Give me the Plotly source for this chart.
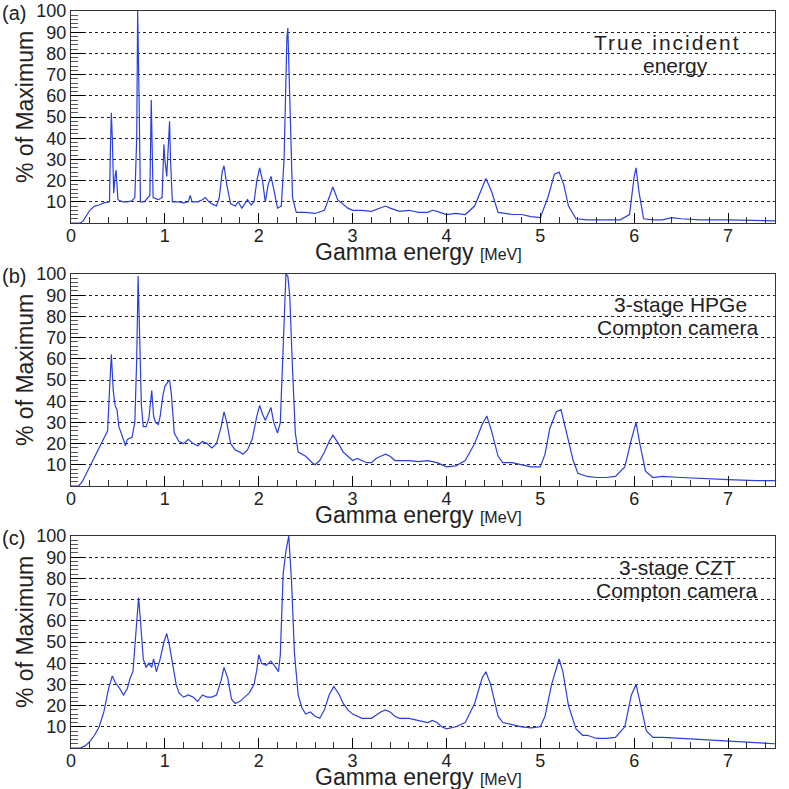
import plotly.graph_objects as go

# ---------------- data ----------------
# (a) True incident energy
energy_a = [0, 0.1, 0.13, 0.2, 0.25, 0.3, 0.35, 0.4, 0.41, 0.42, 0.43, 0.44, 0.455, 0.47, 0.48, 0.49, 0.5,
            0.55, 0.6, 0.65, 0.68, 0.7, 0.71, 0.725, 0.74, 0.78, 0.82, 0.84, 0.855, 0.865, 0.875, 0.93,
            0.97, 0.99, 1.0, 1.02, 1.05, 1.06, 1.08, 1.15, 1.2, 1.25, 1.27, 1.29, 1.35, 1.4, 1.43, 1.47,
            1.5, 1.55, 1.58, 1.61, 1.63, 1.66, 1.7, 1.75, 1.78, 1.82, 1.85, 1.88, 1.92, 1.95, 1.98, 2.01,
            2.04, 2.07, 2.1, 2.13, 2.16, 2.2, 2.24, 2.27, 2.3, 2.31, 2.33, 2.36, 2.4, 2.5, 2.6, 2.7, 2.75,
            2.79, 2.84, 2.9, 2.95, 3.0, 3.1, 3.2, 3.3, 3.35, 3.4, 3.5, 3.6, 3.7, 3.8, 3.85, 3.9, 4.0, 4.1,
            4.2, 4.3, 4.37, 4.42, 4.48, 4.55, 4.7, 4.8, 4.9, 5.0, 5.08, 5.15, 5.2, 5.25, 5.3, 5.38, 5.5,
            5.7, 5.85, 5.95, 6.0, 6.02, 6.05, 6.1, 6.2, 6.3, 6.4, 6.5, 6.7, 7.0, 7.5]
percent_a = [0, 0, 1, 6, 8, 8.5, 9.5, 10, 10, 35, 52, 40, 14, 22, 25, 18, 11,
             10, 10, 10.5, 12, 40, 100, 60, 10, 10, 12, 13, 58, 20, 12, 11,
             12, 37, 30, 22, 48, 30, 10, 10, 9.5, 10, 13, 10, 10, 11, 12, 10,
             9, 8, 12, 24, 27, 18, 9, 8, 10, 7, 9, 11, 8.5, 10, 20, 26,
             20, 10, 18, 22, 16, 7, 8, 30, 87, 92, 60, 12, 5, 5, 4.5, 6, 12,
             17, 11, 9, 7, 6, 6, 5.5, 7, 8, 7, 5.5, 6, 5, 5, 6, 5.5, 4, 4.5,
             4, 8, 16, 21, 15, 5, 4, 4, 3, 2.5, 12, 23, 24, 18, 8, 2, 1.5,
             1.5, 1.5, 4, 22, 26, 15, 2, 1.5, 1.5, 2.5, 2, 1.5, 1.5, 1]

# (b) 3-stage HPGe Compton camera
energy_b = [0, 0.08, 0.12, 0.2, 0.25, 0.3, 0.35, 0.39, 0.41, 0.43, 0.45, 0.47, 0.49, 0.51, 0.55, 0.58,
            0.6, 0.65, 0.68, 0.7, 0.715, 0.73, 0.75, 0.77, 0.8, 0.83, 0.86, 0.88, 0.9, 0.93, 0.95, 0.98,
            1.0, 1.03, 1.05, 1.07, 1.1, 1.15, 1.2, 1.25, 1.3, 1.35, 1.4, 1.45, 1.5, 1.55, 1.6, 1.63, 1.66,
            1.7, 1.75, 1.8, 1.83, 1.88, 1.93, 1.98, 2.01, 2.04, 2.07, 2.1, 2.13, 2.16, 2.2, 2.23, 2.26,
            2.29, 2.31, 2.33, 2.36, 2.39, 2.42, 2.5, 2.57, 2.6, 2.65, 2.7, 2.75, 2.79, 2.85, 2.9, 2.95,
            3.0, 3.05, 3.1, 3.15, 3.2, 3.25, 3.3, 3.35, 3.4, 3.45, 3.5, 3.6, 3.7, 3.8, 3.9, 4.0, 4.1, 4.2,
            4.3, 4.38, 4.43, 4.48, 4.55, 4.6, 4.7, 4.8, 4.9, 5.0, 5.05, 5.1, 5.17, 5.22, 5.28, 5.35, 5.4,
            5.5, 5.6, 5.7, 5.8, 5.9, 5.97, 6.02, 6.06, 6.12, 6.2, 6.3, 6.5, 6.7, 7.0, 7.3, 7.5]
percent_b = [0, 0, 2, 9, 14, 18, 22, 26, 45, 62, 45, 38, 36, 28, 23, 19,
             22, 23, 30, 60, 99, 70, 38, 28, 28, 32, 45, 33, 30, 29, 33, 43,
             47, 49, 50, 43, 25, 21, 20, 22, 20, 19, 21, 20, 18, 20, 28, 35, 30,
             20, 17, 16, 15, 17, 22, 33, 38, 34, 31, 34, 37, 30, 25, 30, 65,
             100, 99, 90, 55, 25, 16, 14, 11, 10, 12, 16, 21, 24, 20, 16, 14,
             12, 13, 12, 11, 11, 13, 14, 15, 14, 12, 12, 12, 11.5, 12, 11, 9, 9.5, 12,
             20, 29, 33, 26, 14, 11, 11, 10, 9, 9, 15, 27, 35, 36, 25, 12, 6,
             4.5, 4, 4, 4.5, 9, 22, 30, 20, 7, 4, 4.5, 4, 3.5, 3, 2.5, 2.5]

# (c) 3-stage CZT Compton camera
energy_c = [0, 0.1, 0.15, 0.2, 0.25, 0.3, 0.35, 0.4, 0.44, 0.47, 0.52, 0.56, 0.6, 0.63, 0.66, 0.69,
            0.72, 0.74, 0.77, 0.8, 0.83, 0.86, 0.88, 0.91, 0.95, 0.99, 1.02, 1.05, 1.08, 1.12, 1.15,
            1.2, 1.25, 1.3, 1.35, 1.4, 1.45, 1.5, 1.55, 1.6, 1.63, 1.67, 1.71, 1.75, 1.8, 1.85, 1.9,
            1.95, 1.98, 2.0, 2.03, 2.08, 2.13, 2.18, 2.21, 2.23, 2.26, 2.29, 2.32, 2.35, 2.38, 2.42,
            2.46, 2.5, 2.55, 2.6, 2.65, 2.7, 2.75, 2.8, 2.86, 2.9, 2.95, 3.0, 3.05, 3.1, 3.2, 3.3,
            3.35, 3.4, 3.45, 3.5, 3.6, 3.7, 3.8, 3.85, 3.9, 3.95, 4.0, 4.1, 4.2, 4.3, 4.38, 4.42,
            4.47, 4.55, 4.6, 4.7, 4.8, 4.9, 5.0, 5.05, 5.12, 5.2, 5.24, 5.3, 5.38, 5.45, 5.5, 5.6,
            5.7, 5.8, 5.9, 5.97, 6.02, 6.07, 6.13, 6.2, 6.3, 6.5, 6.7, 7.0, 7.3, 7.5]
percent_c = [0, 0, 1, 3, 6, 10, 17, 28, 34, 31, 28, 25, 28, 33, 36, 52,
             71, 60, 42, 38, 40, 38, 42, 36, 42, 50, 54, 48, 40, 30, 26,
             24, 25, 24, 22, 25, 24, 24, 25, 32, 38, 33, 23, 21, 22, 24, 26,
             30, 37, 44, 40, 39, 41, 38, 36, 44, 82, 93, 100, 78, 45, 25,
             19, 16, 17, 15, 14, 18, 25, 29, 25, 21, 18, 16, 15, 14, 14, 17,
             18, 17, 15, 14, 14, 13, 12, 13, 12, 10, 9, 10, 12, 21, 33, 36,
             30, 15, 12, 11, 10, 9.5, 10, 15, 30, 42, 36, 20, 9, 6, 6, 4.5,
             4.5, 5, 10, 25, 30, 20, 8, 5, 5, 4.5, 4, 3.5, 2.5, 2]

panel_labels = ["(a)", "(b)", "(c)"]
panel_notes = [["<span style='letter-spacing:2px'>True incident</span>", "energy"],
               ["3-stage HPGe", "Compton camera"],
               ["3-stage CZT", "Compton camera"]]

# ---------------- figure ----------------
W = H = 789
FONT = "Liberation Sans, Arial, Helvetica, sans-serif"
LINE_COLOR = "#2b3fdc"

# plot-area pixel boxes (top, bottom) for each panel
x_left, x_right = 71, 775
panels_px = [(11, 223), (274, 486), (536, 748)]
# note line centres (x px) per panel
note_x = [(667, 675), (680, 677), (677, 676)]

fig = go.Figure()
series = [(energy_a, percent_a), (energy_b, percent_b), (energy_c, percent_c)]

annotations = []
for i, ((xs, ys), (top, bot)) in enumerate(zip(series, panels_px)):
    n = "" if i == 0 else str(i + 1)
    fig.add_trace(go.Scatter(x=xs, y=ys, mode="lines",
                             line=dict(color=LINE_COLOR, width=1.2),
                             xaxis="x" + n, yaxis="y" + n, showlegend=False,
                             hoverinfo="skip"))
    ydom = [1 - bot / H, 1 - top / H]
    xdom = [x_left / W, x_right / W]
    fig.layout["xaxis" + n] = dict(
        domain=xdom, anchor="y" + n, range=[0, 7.5], automargin=False,
        tickmode="linear", tick0=0, dtick=1,
        ticks="inside", ticklen=10, tickwidth=1, tickcolor="#000",
        minor=dict(dtick=0.2, tick0=0, ticks="inside", ticklen=6, tickcolor="#333",
                   tickwidth=1, showgrid=False),
        showline=True, linecolor="#333", linewidth=1, mirror=True,
        showgrid=False, zeroline=False, ticklabelstandoff=-4,
        tickfont=dict(family=FONT, size=18, color="#222"),
    )
    fig.layout["yaxis" + n] = dict(
        domain=ydom, anchor="x" + n, range=[0, 100], automargin=False,
        tickmode="linear", tick0=0, dtick=10, labelalias={0: " "},
        ticks="inside", ticklen=14, tickwidth=1, tickcolor="#000",
        minor=dict(dtick=2, tick0=0, ticks="inside", ticklen=7, tickcolor="#555",
                   tickwidth=1, showgrid=False),
        showline=True, linecolor="#333", linewidth=1, mirror=True,
        showgrid=True, gridcolor="#222", griddash="dot", gridwidth=1,
        zeroline=False,
        tickfont=dict(family=FONT, size=18, color="#222"),
    )
    # panel label
    annotations.append(dict(text=panel_labels[i], x=0.0, y=1 - (top + 2) / H,
                            xref="paper", yref="paper", xanchor="left", yanchor="middle",
                            showarrow=False, font=dict(family=FONT, size=20, color="#222")))
    # y-axis title
    annotations.append(dict(text="% of Maximum", x=25 / W, y=1 - ((top + bot) / 2 - 10) / H,
                            xref="paper", yref="paper", xanchor="center", yanchor="middle",
                            textangle=-90, showarrow=False,
                            font=dict(family=FONT, size=23, color="#222")))
    # x-axis title
    annotations.append(dict(text="Gamma energy <span style='font-size:16px'>[MeV]</span>",
                            x=418 / W, y=1 - (bot + 29) / H,
                            xref="paper", yref="paper", xanchor="center", yanchor="middle",
                            showarrow=False, font=dict(family=FONT, size=23, color="#222")))
    # note (two lines placed separately)
    for k, line_text in enumerate(panel_notes[i]):
        annotations.append(dict(text=line_text, x=note_x[i][k] / W,
                                y=1 - (top + 31 + 23 * k) / H,
                                xref="paper", yref="paper", xanchor="center", yanchor="middle",
                                showarrow=False,
                                font=dict(family=FONT, size=21, color="#222")))

fig.update_layout(width=W, height=H, margin=dict(l=0, r=0, t=0, b=0),
                  paper_bgcolor="white", plot_bgcolor="white",
                  annotations=annotations)

fig.write_html("out.html", config={"displayModeBar": False},
               post_script="document.body.style.margin='0px';")
